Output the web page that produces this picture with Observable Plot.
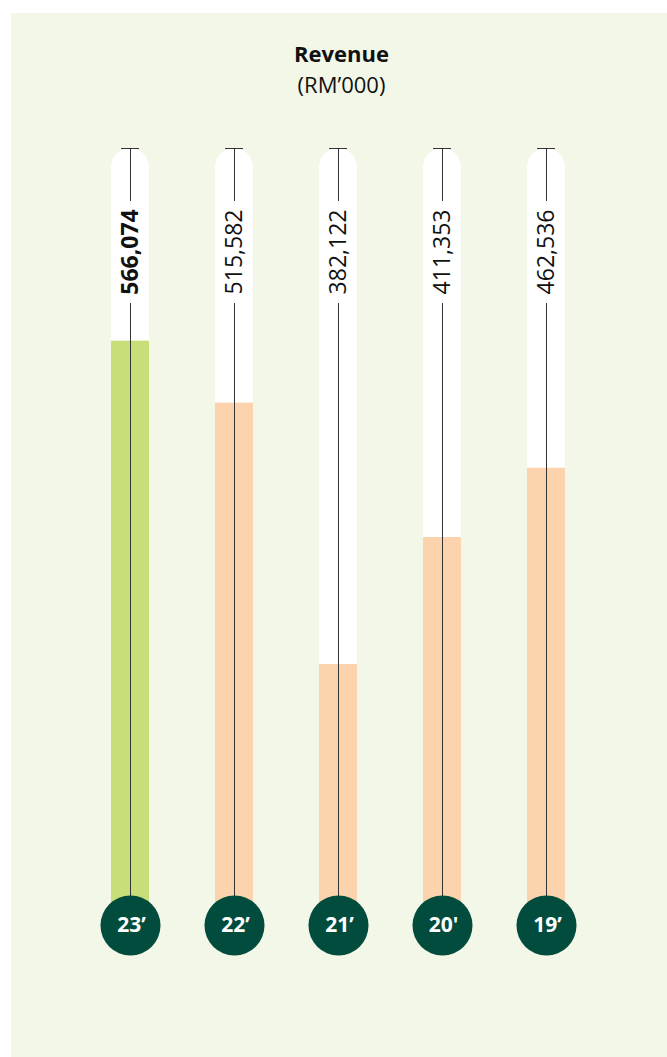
<!DOCTYPE html>
<html>
<head>
<meta charset="utf-8">
<script src="https://cdn.jsdelivr.net/npm/d3@7"></script>
<script src="https://cdn.jsdelivr.net/npm/@observablehq/plot@0.6"></script>
<style>
  html, body { margin: 0; padding: 0; background: #ffffff; }
  body { width: 667px; height: 1057px; position: relative; overflow: hidden; font-family: "Open Sans", sans-serif; }
  #panel { position: absolute; left: 11px; top: 13px; right: 0; bottom: 0; background: #f3f7e8; }
  #title { position: absolute; left: 0; width: 683px; top: 38.3px; text-align: center; font-size: 22px; line-height: 31px; color: #111; }
  #title .t1 { font-weight: 700; }
  #chart { position: absolute; left: 0; top: 120px; }
</style>
</head>
<body>
<div id="panel"></div>
<div id="title"><div class="t1">Revenue</div><div class="t2">(RM’000)</div></div>
<div id="chart"></div>
<script>
// ---- data ----
const years = ["23’", "22’", "21’", "20'", "19’"];
const revenue = [566074, 515582, 382122, 411353, 462536];          // labelled values (RM'000)
const barLevel = [566074, 515582, 302600, 406100, 462536];         // fill level as drawn in the reference (RM'000)
const period = ["current", "prior", "prior", "prior", "prior"];
const axisExtent = [90000, 723000];                                 // extent of each track (RM'000)

const rows = years.map((y, i) => ({year: y, revenue: revenue[i], level: barLevel[i], period: period[i],
  label: d3.format(",")(revenue[i])}));
const tracks = years.map(y => ({year: y, lo: axisExtent[0], hi: axisExtent[1]}));

const ink = "#333333";
const plot = Plot.plot({
  width: 667,
  height: 937,
  marginLeft: 78,
  marginRight: 69,
  marginTop: 28,
  marginBottom: 132,
  style: {fontFamily: "Open Sans", background: "transparent", overflow: "visible"},
  x: {type: "band", domain: years, padding: 0, axis: null},
  y: {domain: axisExtent, axis: null},
  color: {domain: ["current", "prior"], range: ["#c8de78", "#fdd3ad"]},
  marks: [
    // white track with rounded top
    Plot.barY(tracks, {x: "year", y1: "lo", y2: "hi", fill: "#ffffff", insetLeft: 33, insetRight: 33, rx: 19}),
    // coloured fill
    Plot.barY(rows, {x: "year", y1: () => axisExtent[0], y2: "level", fill: "period", insetLeft: 33, insetRight: 33}),
    // cap tick
    Plot.tickY(tracks, {x: "year", y: "hi", stroke: ink, strokeWidth: 1, insetLeft: 43, insetRight: 43}),
    // centre line, interrupted by the value label
    Plot.ruleX(tracks, {x: "year", y1: "hi", y2: "lo", stroke: ink, strokeWidth: 1, insetBottom: 724}),
    Plot.ruleX(tracks, {x: "year", y1: "hi", y2: "lo", stroke: ink, strokeWidth: 1, insetTop: 155}),
    // value labels
    Plot.text(rows.filter(d => d.period === "current"), {x: "year", y: () => axisExtent[1], text: "label", rotate: -90,
      dy: 103.5, fontSize: 23, fontWeight: 700, fill: "#111"}),
    Plot.text(rows.filter(d => d.period !== "current"), {x: "year", y: () => axisExtent[1], text: "label", rotate: -90,
      dy: 103.5, fontSize: 23, fontWeight: 400, fill: "#111"}),
    // year badges
    Plot.dot(rows, {x: "year", y: () => axisExtent[0], r: 30, fill: "#024c3e", stroke: "none"}),
    Plot.text(rows, {x: "year", y: () => axisExtent[0], text: "year", fill: "#ffffff", fontSize: 21, fontWeight: 700, dx: 1})
  ]
});
document.getElementById("chart").appendChild(plot);
</script>
</body>
</html>
